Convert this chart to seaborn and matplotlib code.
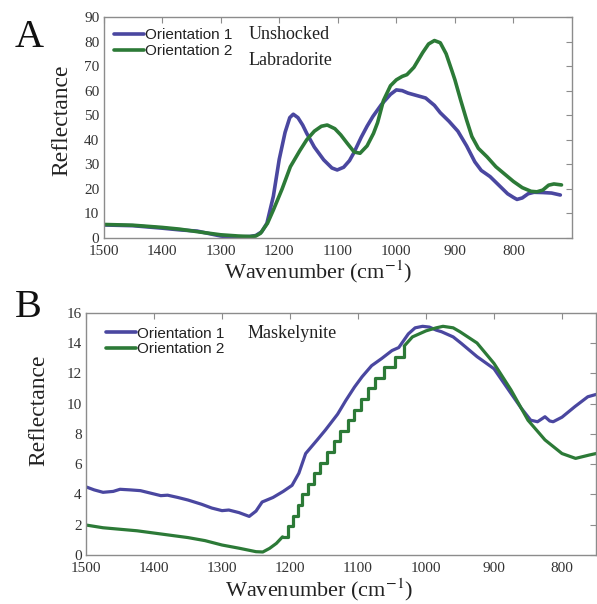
import numpy as np
import pandas as pd
import matplotlib
matplotlib.use("Agg")
import matplotlib.pyplot as plt
import seaborn as sns

# ---------------- data ----------------
# Panel A: Unshocked Labradorite
A_O1_WN = [1500, 1450, 1400, 1370, 1340, 1300, 1285, 1270, 1250, 1240, 1230, 1221, 1210, 1200, 1190,
           1182, 1176, 1168, 1160, 1153, 1140, 1124, 1110, 1101, 1090, 1080, 1073, 1060, 1050, 1040,
           1025, 1010, 1000, 990, 980, 965, 950, 935, 925, 910, 895, 880, 866, 855, 840, 825, 810,
           800, 794, 785, 775, 765, 750, 735, 720]
A_O1_VAL = [5.3, 5.0, 4.0, 3.3, 2.8, 0.8, 0.4, 0.4, 0.6, 1.0, 2.5, 6.0, 17.0, 32.0, 43.0,
            49.0, 50.4, 49.0, 46.0, 42.6, 37.0, 31.8, 28.5, 27.7, 28.8, 31.5, 34.5, 41.0, 45.5, 49.5,
            54.5, 58.5, 60.3, 60.0, 59.0, 58.0, 57.0, 54.0, 51.0, 47.5, 43.5, 37.5, 31.0, 27.5, 25.0, 21.5, 18.0,
            16.5, 15.7, 16.3, 18.0, 18.6, 18.5, 18.3, 17.5]

A_O2_WN = [1500, 1450, 1400, 1370, 1335, 1300, 1270, 1250, 1240, 1232, 1220, 1210, 1195, 1181, 1165,
           1153, 1140, 1128, 1118, 1105, 1095, 1084, 1072, 1062, 1050, 1039, 1032, 1022, 1010, 1000,
           990, 982, 970, 955, 945, 935, 925, 915, 905, 900, 890, 880, 871, 860, 845, 830, 815,
           800, 785, 770, 760, 750, 740, 731, 718]
A_O2_VAL = [5.5, 5.2, 4.3, 3.6, 2.4, 1.3, 0.8, 0.6, 0.8, 1.9, 6.0, 11.4, 20.0, 29.0, 35.5,
            40.0, 43.5, 45.5, 46.0, 44.5, 42.0, 38.6, 35.0, 34.5, 37.5, 42.6, 47.0, 56.0, 62.0, 64.4,
            65.8, 66.5, 69.5, 75.5, 79.0, 80.4, 79.5, 75.0, 68.0, 64.4, 56.0, 48.0, 41.3, 36.5, 33.0, 29.0, 26.0,
            23.0, 20.5, 19.0, 18.8, 19.5, 21.5, 22.0, 21.6]

# Panel B: Maskelynite
B_O1_WN = [1500, 1488, 1475, 1460, 1450, 1435, 1420, 1400, 1390, 1380, 1365, 1350, 1330, 1315, 1300,
           1290, 1275, 1260, 1250, 1241, 1225, 1210, 1197, 1187, 1177, 1160, 1148, 1130, 1118, 1105,
           1094, 1080, 1065, 1050, 1040, 1026, 1016, 1005, 995, 985, 977, 960, 948, 925, 900, 875,
           860, 846, 836, 825, 818, 813, 800, 781, 762, 750]
B_O1_VAL = [4.5, 4.3, 4.14, 4.2, 4.34, 4.3, 4.25, 4.03, 3.92, 3.95, 3.8, 3.63, 3.35, 3.1, 2.93,
            2.97, 2.8, 2.55, 2.9, 3.5, 3.8, 4.2, 4.6, 5.4, 6.7, 7.6, 8.25, 9.3, 10.2, 11.1,
            11.77, 12.5, 12.98, 13.5, 13.7, 14.6, 15.0, 15.1, 15.05, 14.85, 14.74, 14.4, 13.97, 13.1, 12.3, 10.67,
            9.7, 8.9, 8.8, 9.13, 8.85, 8.8, 9.1, 9.8, 10.45, 10.6]

# Orientation 2 in panel B: smooth low part, stepped rise, smooth high part
B_O2_LOW_WN = [1500, 1475, 1450, 1425, 1400, 1375, 1350, 1325, 1300, 1275, 1250, 1240, 1230, 1220, 1211]
B_O2_LOW_VAL = [1.98, 1.8, 1.7, 1.6, 1.45, 1.3, 1.15, 0.95, 0.66, 0.45, 0.22, 0.2, 0.44, 0.77, 1.2]
B_O2_STEP_WN = [1211, 1203, 1195, 1188, 1182, 1174, 1164, 1156, 1146, 1136, 1126, 1115, 1106, 1096,
                1086, 1075, 1062, 1046, 1032]
B_O2_STEP_VAL = [1.2, 1.9, 2.6, 3.3, 4.0, 4.7, 5.4, 6.1, 6.8, 7.5, 8.2, 8.9, 9.6, 10.3,
                 11.0, 11.7, 12.4, 13.1, 13.8]
B_O2_HIGH_WN = [1032, 1020, 1010, 1000, 985, 975, 960, 950, 925, 900, 875, 850, 825, 800, 780, 760, 750]
B_O2_HIGH_VAL = [13.8, 14.4, 14.6, 14.8, 15.0, 15.1, 15.0, 14.74, 14.0, 12.65, 10.9, 8.9, 7.6, 6.7, 6.38, 6.6, 6.7]

SERIES = ["Orientation 1", "Orientation 2"]
XTICKS = [1500, 1400, 1300, 1200, 1100, 1000, 900, 800]
A_YTICKS = list(range(0, 91, 10))
B_YTICKS = list(range(0, 17, 2))

# ---------------- style ----------------
sns.set_style("white")
plt.rcParams["font.family"] = ["Liberation Serif", "DejaVu Serif"]
plt.rcParams["mathtext.fontset"] = "stix"

BLUE = "#4a47a0"
GREEN = "#2c7a37"
SPINE = "#8c8c8c"
TXT = "#333333"

fig = plt.figure(figsize=(5.97, 6.04), dpi=100)
axA = fig.add_axes([0.1734, 0.6060, 0.7848, 0.3659])
axB = fig.add_axes([0.1441, 0.0811, 0.8542, 0.4012])


def style_axes(ax, xlim, ylim, yticks):
    ax.set_xlim(*xlim)
    ax.set_ylim(*ylim)
    ax.set_xticks(XTICKS)
    ax.set_yticks(yticks)
    for s in ax.spines.values():
        s.set_visible(True)
        s.set_color(SPINE)
        s.set_linewidth(1.0)
    ax.tick_params(direction="in", length=4, width=0.8, color=SPINE,
                   top=True, right=True, labelsize=11, labelcolor=TXT)
    ax.tick_params(axis="x", pad=5)
    ax.tick_params(axis="y", pad=3)


# Panel A
dfA1 = pd.DataFrame({"wn": A_O1_WN, "r": A_O1_VAL})
dfA2 = pd.DataFrame({"wn": A_O2_WN, "r": A_O2_VAL})
sns.lineplot(data=dfA1, x="wn", y="r", ax=axA, color=BLUE, lw=2.6, sort=False, label=SERIES[0])
sns.lineplot(data=dfA2, x="wn", y="r", ax=axA, color=GREEN, lw=2.6, sort=False, label=SERIES[1])
style_axes(axA, (1500, 700), (0, 90), A_YTICKS)

# Panel B
dfB1 = pd.DataFrame({"wn": B_O1_WN, "r": B_O1_VAL})
dfB2a = pd.DataFrame({"wn": B_O2_LOW_WN, "r": B_O2_LOW_VAL})
dfB2b = pd.DataFrame({"wn": B_O2_STEP_WN, "r": B_O2_STEP_VAL})
dfB2c = pd.DataFrame({"wn": B_O2_HIGH_WN, "r": B_O2_HIGH_VAL})
sns.lineplot(data=dfB1, x="wn", y="r", ax=axB, color=BLUE, lw=2.3, sort=False, label=SERIES[0])
sns.lineplot(data=dfB2a, x="wn", y="r", ax=axB, color=GREEN, lw=2.3, sort=False, label=SERIES[1])
sns.lineplot(data=dfB2b, x="wn", y="r", ax=axB, color=GREEN, lw=2.3, sort=False,
             drawstyle="steps-post", legend=False)
sns.lineplot(data=dfB2c, x="wn", y="r", ax=axB, color=GREEN, lw=2.3, sort=False, legend=False)
style_axes(axB, (1500, 750), (0, 16), B_YTICKS)

for ax, lx, ly, yx, yy, leg_xy in [
    (axA, 0.459, -0.155, -0.0886, 0.534, (0.015, 0.962)),
    (axB, 0.457, -0.145, -0.092, 0.598, (0.033, 0.955)),
]:
    ax.set_xlabel("Wavenumber (cm$^{-1}$)", fontsize=16, color="#222222")
    ax.set_ylabel("Reflectance", fontsize=17, color="#222222")
    ax.xaxis.set_label_coords(lx, ly)
    ax.xaxis.label.set_va("center")
    ax.yaxis.set_label_coords(yx, yy)
    ax.yaxis.label.set_va("center")
    leg = ax.legend(loc="upper left", bbox_to_anchor=leg_xy, frameon=False,
                    prop={"family": "Liberation Sans", "size": 11},
                    handlelength=2.0, handletextpad=0.05, labelspacing=0.1,
                    borderaxespad=0.0, borderpad=0.2)
    for t in leg.get_texts():
        t.set_color("#222222")
    for h in leg.get_lines():
        h.set_linewidth(2.6)

axA.text(0.309, 0.919, "Unshocked", transform=axA.transAxes, fontsize=13,
         va="center", ha="left", color="#222222")
axA.text(0.309, 0.805, "Labradorite", transform=axA.transAxes, fontsize=13,
         va="center", ha="left", color="#222222")
axB.text(0.317, 0.916, "Maskelynite", transform=axB.transAxes, fontsize=13,
         va="center", ha="left", color="#222222")

fig.text(0.0486, 0.9387, "A", fontsize=29, ha="center", va="center", color="#111111")
fig.text(0.047, 0.4917, "B", fontsize=29, ha="center", va="center", color="#111111")

fig.savefig("out.png", dpi=100)
